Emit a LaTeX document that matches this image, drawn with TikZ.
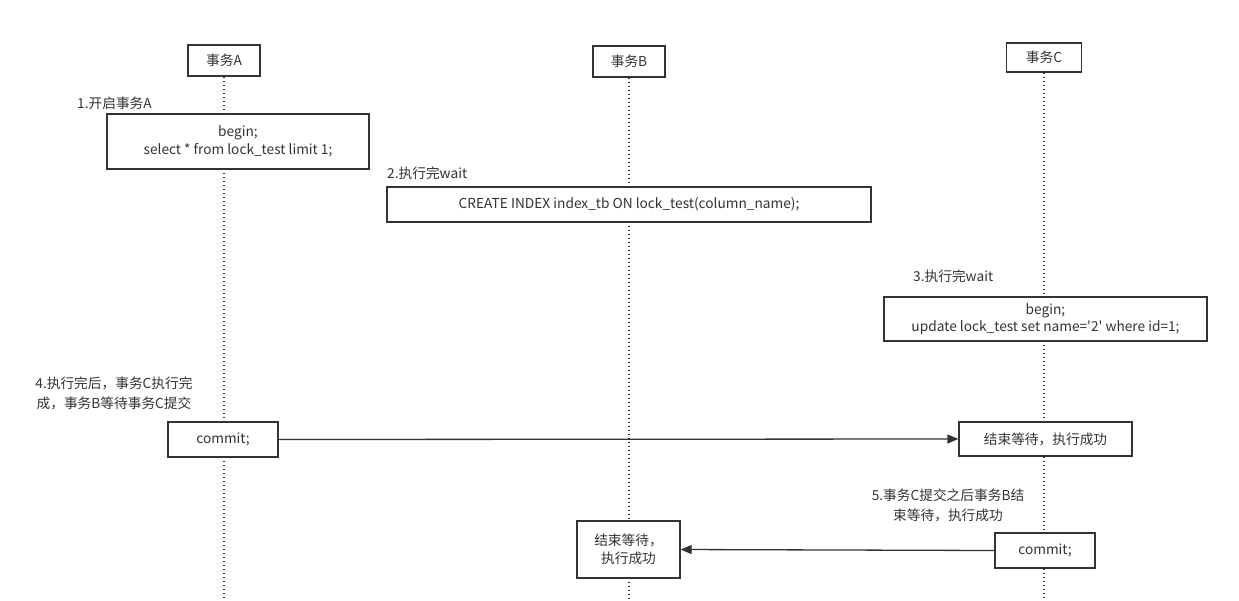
\documentclass[tikz,border=0pt]{standalone}
\usepackage{fontspec}
\setmainfont{Noto Sans CJK SC}
\usetikzlibrary{arrows.meta}
\definecolor{ink}{HTML}{333333}
\tikzset{
  txbox/.style={draw=ink, line width=1.3pt, fill=white, text=ink, align=center,
    inner sep=0pt, font=\fontsize{13.7}{17.5}\selectfont},
  note/.style={text=ink, align=center, inner sep=0pt, font=\fontsize{13.7}{20}\selectfont},
  lifeline/.style={ink, line width=1.5pt, dash pattern=on 1.5pt off 2.5pt},
  msg/.style={ink, line width=1.3pt, -{Triangle[length=11pt, width=9pt]}}
}
\begin{document}
\begin{tikzpicture}[x=1pt, y=-1pt]
\useasboundingbox[fill=white] (0,0) rectangle (1239,600);
% transaction headers
\node[txbox, minimum width=72pt, minimum height=31pt] (hdrA) at (224,60.5) {事务A};
\node[txbox, minimum width=72pt, minimum height=31pt] (hdrB) at (629,61.5) {事务B};
\node[txbox, minimum width=75pt, minimum height=29pt] (hdrC) at (1044,57.5) {事务C};
\coordinate (endA) at (224,600);
\coordinate (endB) at (629,600);
\coordinate (endC) at (1044,600);
\draw[lifeline] (hdrA.south) -- (endA);
\draw[lifeline] (hdrB.south) -- (endB);
\draw[lifeline] (hdrC.south) -- (endC);
% step 1
\node[note, anchor=west] (lbl1) at (77,103) {1.开启事务A};
\node[txbox, minimum width=262pt, minimum height=55pt] (beginA) at (238,141.5)
  {begin;\\ select * from lock\_test limit 1;};
% step 2
\node[note, anchor=west] (lbl2) at (387,173) {2.执行完wait};
\node[txbox, minimum width=484pt, minimum height=35pt] (indexB) at (629,204.5)
  {CREATE INDEX index\_tb ON lock\_test(column\_name);};
% step 3
\node[note, anchor=west] (lbl3) at (913,276) {3.执行完wait};
\node[txbox, minimum width=323pt, minimum height=44pt] (updateC) at (1045.5,319)
  {begin;\\ update lock\_test set name=\textquotesingle 2\textquotesingle{} where id=1;};
% step 4
\node[note] (lbl4) at (114,393) {4.执行完后，事务C执行完\\成，事务B等待事务C提交};
\node[txbox, minimum width=110pt, minimum height=35pt] (commitA) at (223,439.5) {commit;};
\node[txbox, minimum width=173pt, minimum height=34pt] (doneC) at (1045.5,439) {结束等待，执行成功};
\draw[msg] (commitA.east) -- (doneC.west);
% step 5
\node[note] (lbl5) at (948,505) {5.事务C提交之后事务B结\\束等待，执行成功};
\node[txbox, minimum width=100pt, minimum height=35pt] (commitC) at (1045,550.5) {commit;};
\node[txbox, minimum width=103pt, minimum height=57pt] (doneB) at (628.5,549.5) {结束等待，\\执行成功};
\draw[msg] (commitC.west) -- (doneB.east);
\end{tikzpicture}
\end{document}
